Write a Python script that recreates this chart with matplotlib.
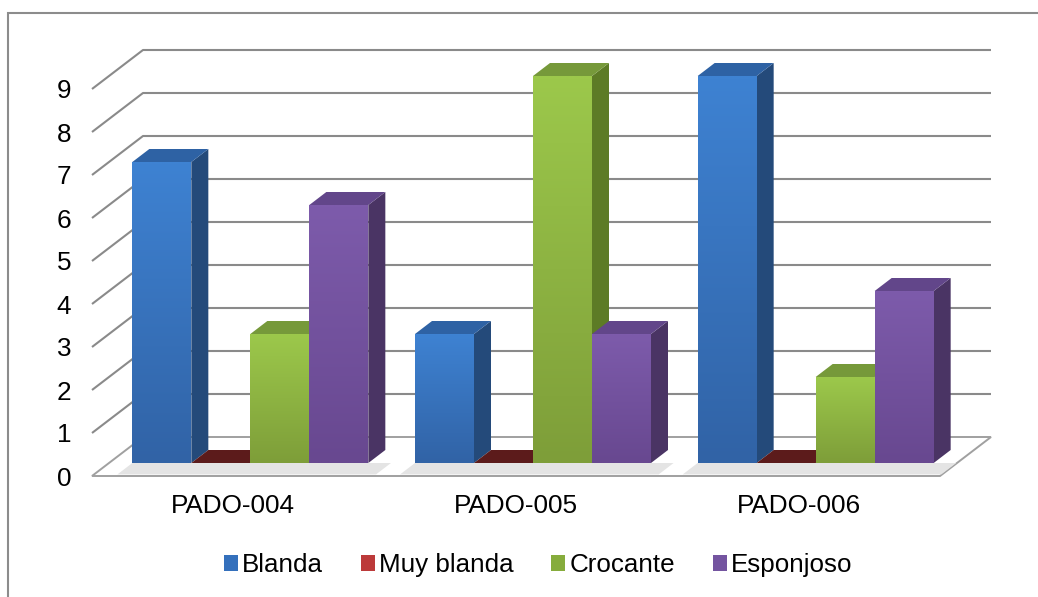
import numpy as np
import matplotlib
matplotlib.use('Agg')
import matplotlib.pyplot as plt
from matplotlib.patches import Polygon, Patch, Rectangle
from matplotlib.colors import to_rgb

plt.rcParams['font.family'] = ['Liberation Sans', 'DejaVu Sans']

# data
categories = ['PADO-004', 'PADO-005', 'PADO-006']
series = ['Blanda', 'Muy blanda', 'Crocante', 'Esponjoso']
blanda = [7, 3, 9]
muy_blanda = [0, 0, 0]
crocante = [3, 9, 2]
esponjoso = [6, 3, 4]
values = [blanda, muy_blanda, crocante, esponjoso]
yticks = list(range(10))

# face colours: front top, front bottom, side, top
colors = [
    ('#3E82D2', '#3163A6', '#244A7A', '#2E62A4'),
    ('#8E2B2B', '#7A2222', '#5A1818', '#5C1B1B'),
    ('#9CC84B', '#7E9E39', '#5D7B26', '#76993A'),
    ('#7D5BAB', '#684890', '#4A3464', '#62468A'),
]
legend_cols = ['#3470BC', '#BC3A3A', '#86AC3C', '#7454A0']

W, H = 1038, 597
fig = plt.figure(figsize=(W / 100, H / 100), dpi=100)
ax = fig.add_axes([92 / W, 121 / H, 848 / W, 430 / H])

# fake depth: offset of the back wall in data units
DX = 51 / (848 / 3)
DY = 39 / 43.0
t1, t2 = 1 / 3, 2 / 3
grid_c = '#8A8A8A'

# floor
x0, x1 = -0.5, 2.5
floor = Polygon([(x0, 0), (x1, 0), (x1 + DX, DY), (x0 + DX, DY)], closed=True,
                facecolor='white', edgecolor='#A0A0A0', lw=1.4, clip_on=False, zorder=1)
ax.add_patch(floor)

# back wall gridlines with the left diagonals
for v in yticks[1:]:
    ax.plot([x0, x0 + DX, x1 + DX], [v, v + DY, v + DY], color=grid_c, lw=1.5,
            clip_on=False, zorder=1, solid_capstyle='butt')


def grad_face(pts, c_top, c_bot, z):
    poly = Polygon(pts, closed=True, facecolor='none', edgecolor='none', clip_on=False, zorder=z)
    ax.add_patch(poly)
    a, b = np.array(to_rgb(c_top)), np.array(to_rgb(c_bot))
    s = np.linspace(0, 1, 64)[:, None]
    img = (a * (1 - s) + b * s)[:, None, :]
    xs = [p[0] for p in pts]
    ys = [p[1] for p in pts]
    im = ax.imshow(img, extent=(min(xs), max(xs), min(ys), max(ys)), origin='upper',
                   aspect='auto', interpolation='bilinear', zorder=z, clip_on=True)
    im.set_clip_path(poly)


# bars
w = 59 / (848 / 3)
n = len(series)
for i, cat in enumerate(categories):
    gl = i - n * w / 2
    # soft shadow on the floor in front of each group
    sh = Polygon([(gl + 0.04 * DX, 0.04 * DY), (gl + n * w + 0.04 * DX + 0.08, 0.04 * DY),
                  (gl + n * w + t1 * DX + 0.08, t1 * DY), (gl + t1 * DX, t1 * DY)],
                 closed=True, facecolor='#E4E4E4', edgecolor='none', clip_on=False, zorder=2)
    ax.add_patch(sh)
    for j in range(n):
        v = values[j][i]
        ftop, fbot, side, top = colors[j]
        bx = gl + j * w
        fx, fy = bx + t1 * DX, t1 * DY
        bxx, byy = bx + t2 * DX, t2 * DY
        z = 3 + j
        if v > 0:
            ax.add_patch(Polygon([(fx + w, fy), (bxx + w, byy), (bxx + w, byy + v), (fx + w, fy + v)],
                                 closed=True, facecolor=side, edgecolor='none', clip_on=False, zorder=z))
            grad_face([(fx, fy), (fx + w, fy), (fx + w, fy + v), (fx, fy + v)], ftop, fbot, z)
        ax.add_patch(Polygon([(fx, fy + v), (fx + w, fy + v), (bxx + w, byy + v), (bxx, byy + v)],
                             closed=True, facecolor=top, edgecolor='none', clip_on=False, zorder=z))

ax.set_xlim(-0.5, 2.5)
ax.set_ylim(0, 10)

# axes text
ax.set_yticks(yticks)
ax.set_yticklabels([str(t) for t in yticks])
ax.set_xticks(range(len(categories)))
ax.set_xticklabels(categories)
ax.tick_params(axis='y', length=0, pad=15, labelsize=18.8)
ax.tick_params(axis='x', length=0, pad=13, labelsize=18.8)
for s in ax.spines.values():
    s.set_visible(False)

handles = [Patch(facecolor=c, edgecolor='none') for c in legend_cols]
fig.legend(handles, series, loc='center', bbox_to_anchor=(538 / W, 1 - 565 / H), ncol=4,
           frameon=False, fontsize=18.7, handlelength=0.55, handleheight=0.55,
           handletextpad=0.15, columnspacing=1.45)

# chart border
fig.add_artist(Rectangle((8 / W, -0.1), 1.2, 1.1 - 13 / H, transform=fig.transFigure,
                         fill=False, edgecolor='#8C8C8C', lw=1.5))

fig.savefig('out.png', dpi=100)
